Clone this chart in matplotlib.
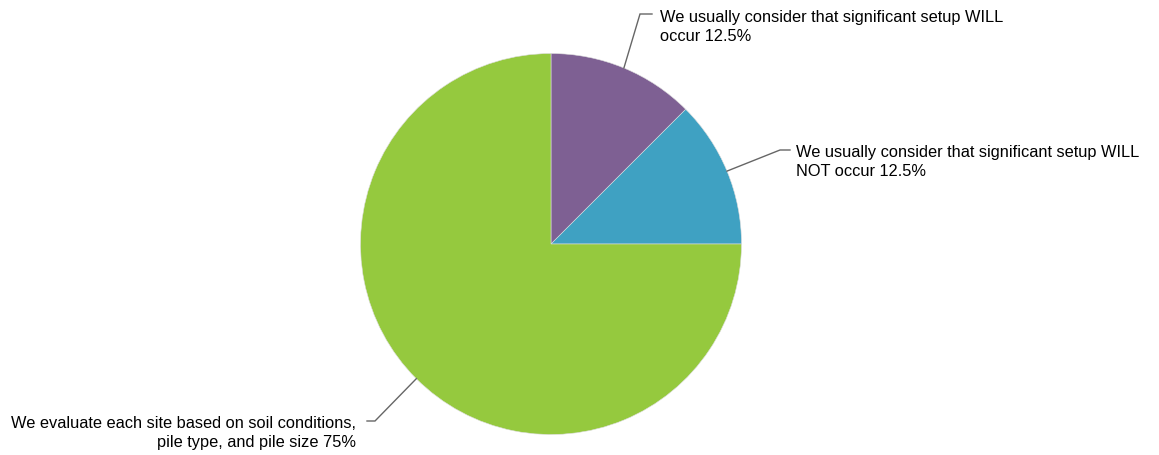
import numpy as np
import matplotlib.pyplot as plt

plt.rcParams['font.family'] = ['Liberation Sans', 'DejaVu Sans']

# data
labels = [
    "We usually consider that significant setup WILL\noccur 12.5%",
    "We usually consider that significant setup WILL\nNOT occur 12.5%",
    "We evaluate each site based on soil conditions,\npile type, and pile size 75%",
]
shares = [12.5, 12.5, 75.0]
colors = ["#7e6093", "#3fa1c2", "#95c93e"]

W, H = 1159, 455
fig = plt.figure(figsize=(W / 100, H / 100), dpi=100)
ax = fig.add_axes([0, 0, 1, 1])

cx, cy, r = 551, H - 244, 190.5
wedges, _ = ax.pie(shares, colors=colors, startangle=90, counterclock=False,
                   center=(cx, cy), radius=r, frame=True,
                   wedgeprops=dict(edgecolor='#dddddd', linewidth=0.4))
ax.set_xlim(0, W)
ax.set_ylim(0, H)
ax.set_aspect('equal')
ax.axis('off')

# elbow / end of leader line and text anchor (pixel coords, y from top)
layout = [
    dict(elbow=(640, 14), end=(652, 14), text=(660, 27), ha='left'),
    dict(elbow=(780, 150), end=(790, 150), text=(796, 162), ha='left'),
    dict(elbow=(375, 421), end=(367, 421), text=(356, 433), ha='right'),
]

for w, lab, lo in zip(wedges, labels, layout):
    ang = np.deg2rad((w.theta1 + w.theta2) / 2)
    sx, sy = cx + r * np.cos(ang), cy + r * np.sin(ang)
    ex, ey = lo['elbow']
    fx, fy = lo['end']
    ax.plot([sx, ex, fx], [sy, H - ey, H - fy], color='#666666', lw=1.0,
            solid_joinstyle='miter')
    tx, ty = lo['text']
    ax.text(tx, H - ty, lab, ha=lo['ha'], va='center', multialignment=lo['ha'],
            fontsize=11.8, color='black', linespacing=1.4)

fig.savefig('out.png', dpi=100, facecolor='white')
